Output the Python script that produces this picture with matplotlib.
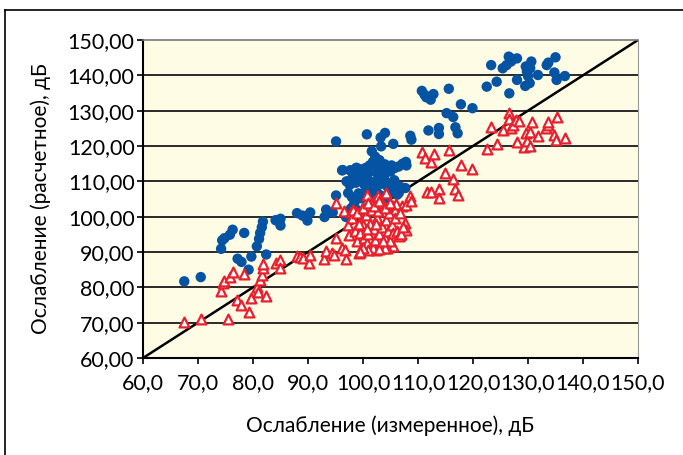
import numpy as np
import matplotlib
matplotlib.use("Agg")
from matplotlib import pyplot as plt
from matplotlib.lines import Line2D

# blue: calculated (model 1), red: calculated (model 2) vs measured attenuation, dB
blue_x = [67.5, 70.5, 74.2, 74.4, 74.8, 75.8, 76.3, 77.2, 77.9, 78.4, 79.2, 79.7, 80.7, 81.1,
          81.3, 81.6, 81.8, 82.4, 84.1, 85.0, 85.0, 88.0, 89.0, 89.9, 90.4, 93.0, 93.3, 94.5,
          95.1, 95.1, 96.2, 96.9, 97.3, 97.3, 97.7, 98.8, 99.3, 100.7, 101.6, 103.2, 103.3,
          104.0, 105.5, 108.6, 108.8, 107.8, 107.9, 107.7, 106.5,
          110.7, 111.2, 111.5, 112.3, 112.8, 111.9, 113.8, 113.8, 115.6, 115.2, 116.4, 116.8,
          117.2, 117.8, 119.9, 122.5, 123.3, 124.3, 125.4, 126.1, 126.5, 126.9, 126.6, 127.3,
          128.0, 128.0, 129.6, 129.5, 129.8, 130.0, 130.4, 130.3, 130.6, 131.8, 133.4, 133.7,
          134.8, 135.0, 135.2, 136.7,
          96.3, 97.7, 98.8, 99.6, 100.5, 101.2, 101.8, 102.5, 103.0, 103.4, 104.0, 104.6, 105.2,
          105.8, 106.5, 107.2, 102.2, 102.6, 101.0, 100.0, 99.3, 104.2, 105.0,
          97.0, 97.6, 98.0, 98.7, 99.5, 100.2, 100.8, 101.5, 102.0, 102.6, 103.2, 103.8, 104.4,
          105.1, 105.7, 106.3, 107.0,
          98.0, 98.5, 99.2, 99.8, 100.5, 101.2, 101.8, 102.5, 103.2, 104.0, 104.8, 105.5, 106.2,
          97.8, 98.3, 99.0]
blue_y = [81.7, 82.9, 90.9, 93.3, 93.9, 94.9, 96.3, 88.1, 87.2, 95.4, 85.0, 88.7, 91.6, 93.7,
          95.4, 97.0, 98.6, 89.3, 99.0, 99.4, 97.5, 101.0, 100.3, 98.9, 101.2, 99.9, 102.0, 101.2,
          106.0, 121.3, 113.1, 99.9, 109.7, 106.7, 113.1, 113.8, 112.5, 123.3, 118.5, 122.4, 119.9,
          123.7, 120.6, 122.9, 121.8, 115.5, 114.5, 108.1, 106.7,
          135.6, 134.5, 133.8, 133.1, 134.7, 124.4, 125.1, 123.4, 136.2, 129.3, 128.2, 125.3,
          123.6, 131.8, 130.7, 136.8, 142.9, 138.2, 142.0, 142.9, 145.3, 143.9, 134.9, 144.6,
          144.8, 138.7, 142.5, 137.0, 141.1, 139.8, 142.0, 137.8, 143.9, 140.1, 142.9, 143.6,
          140.8, 145.1, 138.7, 139.8,
          113.2, 113.1, 113.8, 113.4, 113.8, 114.5, 115.5, 114.2, 116.0, 113.6, 114.8, 113.3, 114.5,
          113.8, 114.2, 115.0, 117.0, 112.2, 112.4, 112.2, 112.5, 112.5, 112.8,
          110.0, 109.0, 110.8, 109.6, 110.5, 109.2, 110.6, 109.8, 108.5, 110.2, 109.3, 110.8, 108.6,
          109.5, 110.3, 108.8, 108.3,
          105.5, 104.2, 106.6, 105.2, 107.2, 106.3, 104.8, 107.0, 106.0, 105.2, 106.8, 107.2, 106.2,
          102.3, 103.2, 101.8]

red_x = [67.5, 70.5, 75.5, 74.2, 74.6, 74.8, 75.8, 76.4, 77.1, 77.9, 78.4, 79.2, 79.7, 80.7,
         81.0, 81.3, 81.6, 81.8, 81.9, 82.4, 84.1, 85.0, 85.0, 88.0, 88.6, 89.1, 90.1, 90.4,
         93.0, 93.3, 94.3, 94.7, 95.1, 95.1, 96.2, 96.7, 96.9, 96.5, 97.3, 97.5, 97.9, 98.8,
         99.8, 100.7, 102.0, 102.8, 104.1, 105.5, 105.9, 107.1, 107.9, 108.5, 108.7, 107.7,
         107.9, 106.7, 105.5, 104.3, 102.4, 99.2,
         98.5, 99.0, 99.5, 99.8, 100.0, 100.2, 100.5, 100.8, 101.0, 101.2, 101.5, 101.8, 102.0,
         102.2, 102.5, 102.8, 103.0, 103.2, 103.5, 103.8, 104.0, 104.2, 104.5, 104.8, 105.0,
         105.2, 105.5, 105.8, 106.0, 106.2, 106.5, 106.8, 107.0, 107.2, 104.0, 103.0, 101.0,
         100.0, 99.5, 98.0, 98.2, 99.0, 100.0, 101.0, 102.0, 103.0, 104.0, 105.0, 99.3, 100.7,
         102.3, 103.6,
         110.7, 111.2, 112.3, 112.9, 111.6, 112.3, 113.8, 113.8, 115.0, 115.6, 116.4, 116.8,
         117.2, 117.8, 119.9, 122.5, 123.3, 124.3, 125.4, 126.5, 126.5, 126.9, 127.3, 127.8,
         128.3, 128.0, 129.2, 129.6, 129.8, 130.3, 130.4, 130.8, 131.8, 133.2, 133.7, 133.7,
         134.8, 135.0, 135.2, 136.7]
red_y = [70.2, 70.9, 71.1, 78.9, 81.3, 81.9, 83.0, 84.4, 76.3, 75.0, 83.8, 73.1, 76.9, 80.1,
         78.6, 82.0, 83.6, 85.5, 86.6, 77.5, 86.9, 87.6, 85.5, 89.0, 88.5, 88.3, 86.9, 89.2,
         88.1, 90.2, 89.7, 89.1, 94.0, 103.9, 91.2, 90.5, 88.1, 101.5, 97.5, 94.9, 101.3, 101.3,
         102.2, 106.2, 104.3, 105.8, 106.7, 102.9, 101.9, 102.9, 103.4, 105.8, 104.3, 98.2,
         96.3, 94.9, 91.6, 91.2, 90.7, 89.7,
         96.0, 93.0, 95.5, 91.5, 97.5, 94.0, 100.5, 92.5, 95.0, 98.0, 102.0, 91.0, 96.5,
         93.5, 99.5, 101.5, 95.0, 92.0, 97.0, 103.0, 94.0, 99.0, 96.0, 101.0, 93.0,
         97.5, 95.5, 99.5, 103.5, 96.0, 94.5, 101.0, 95.0, 97.0, 91.0, 90.8, 90.5,
         91.0, 90.0, 99.5, 102.0, 101.0, 102.5, 104.0, 103.0, 104.5, 102.5, 104.0, 97.8, 96.5,
         97.8, 93.2,
         118.2, 116.6, 115.5, 117.7, 106.9, 107.0, 107.8, 105.3, 112.3, 118.9, 110.7, 107.8,
         106.0, 114.7, 113.5, 119.2, 125.3, 120.6, 124.6, 129.3, 127.6, 125.1, 126.0, 127.4,
         127.2, 121.0, 119.7, 123.6, 121.3, 119.9, 124.1, 126.7, 122.7, 125.1, 126.0, 126.7,
         123.2, 121.8, 128.2, 122.4]

diag = [60, 150]
x_ticks = np.arange(60, 151, 10)
y_ticks = np.arange(60, 151, 10)

plt.rcParams['font.family'] = ['Lato', 'DejaVu Sans']

fig = plt.figure(figsize=(6.83, 4.55), dpi=100)
ax = fig.add_axes([143/683, 1 - 358/455, (638 - 143)/683, (358 - 40)/455])
ax.set_facecolor('#FFFCE6')

for yv in y_ticks[1:-1]:
    ax.axhline(yv, color='#1a1a1a', lw=1.3, zorder=1)

ax.plot(diag, diag, color='black', lw=1.8, zorder=2)
ax.scatter(blue_x, blue_y, s=56, color='#0553A3', edgecolors='none', zorder=3)
ax.scatter(red_x, red_y, s=50, marker='^', facecolors='white', edgecolors='#E8202B',
           linewidths=1.6, zorder=4)

ax.set_xlim(60, 150)
ax.set_ylim(60, 150)
ax.set_xticks(x_ticks)
ax.set_yticks(y_ticks)
ax.set_xticklabels([f"{v:.1f}".replace('.', ',') for v in x_ticks])
ax.set_yticklabels([f"{v:.2f}".replace('.', ',') for v in y_ticks])
ax.tick_params(axis='both', direction='out', length=4, width=1.2, labelsize=15.5,
               colors='black', pad=2)
ax.tick_params(axis='x', pad=7)

for side in ['left', 'bottom']:
    ax.spines[side].set_linewidth(1.5)
    ax.spines[side].set_color('black')
ax.spines['top'].set_color('#777777')
ax.spines['right'].set_color('#999999')
ax.spines['top'].set_linewidth(1.2)
ax.spines['right'].set_linewidth(0.8)

ax.set_xlabel("Ослабление (измеренное), дБ", fontsize=15, labelpad=16)
ax.set_ylabel("Ослабление (расчетное), дБ", fontsize=15, labelpad=12)

# outer frame
fig.add_artist(Line2D([5/683, 1], [1 - 10/455, 1 - 10/455], color='black', lw=1.2,
                      transform=fig.transFigure))
fig.add_artist(Line2D([5/683, 5/683], [0, 1 - 10/455], color='black', lw=1.2,
                      transform=fig.transFigure))

fig.savefig('out.png', dpi=100)
